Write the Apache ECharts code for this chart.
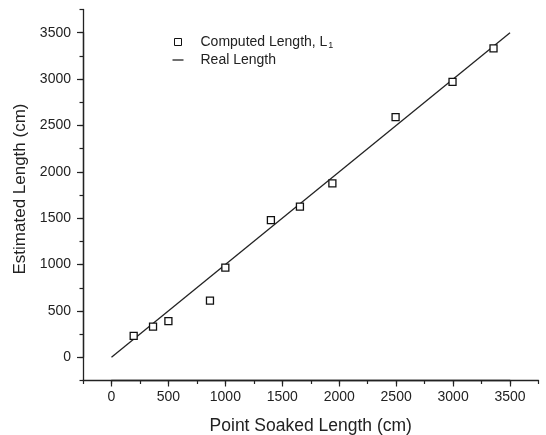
<!DOCTYPE html>
<html>
<head>
<meta charset="utf-8">
<script src="https://cdn.jsdelivr.net/npm/echarts@6/dist/echarts.min.js"></script>
<style>
html,body{margin:0;padding:0;background:#fff;}
#chart{width:546px;height:435px;}
</style>
</head>
<body>
<div id="chart"></div>
<script>
// Data
const soakedLength = [195, 365, 500, 865, 1000, 1400, 1655, 1940, 2495, 2995, 3355];
const computedLength = [232, 330, 390, 612, 966, 1480, 1625, 1875, 2590, 2970, 3330];
const realLineX = [0, 3500];
const realLineY = [0, 3500];
const tickValues = [0, 500, 1000, 1500, 2000, 2500, 3000, 3500];
const seriesNames = ['Computed Length, L1', 'Real Length'];
const xTitle = 'Point Soaked Length (cm)';
const yTitle = 'Estimated Length (cm)';

const FONT = "'Liberation Sans', Arial, sans-serif";
const INK = '#222';

const scatterData = soakedLength.map((x, i) => [x, computedLength[i]]);
const lineData = realLineX.map((x, i) => [x, realLineY[i]]);

// main plot frame: axis range -250..3750 on both axes
const G = {left: 83, right: 7.5, top: 9.5, bottom: 54.5};
const W = 546 - G.left - G.right;
const H = 435 - G.top - G.bottom;
const padX = W * 250 / 4000;
const padY = H * 250 / 4000;

function mainAxis(name, isX) {
  return {
    type: 'value',
    gridIndex: 0,
    position: isX ? 'bottom' : 'left',
    min: -250, max: 3750, interval: 250,
    name: name,
    nameLocation: 'middle',
    nameGap: isX ? 37 : 54,
    nameTextStyle: isX
      ? {fontFamily: FONT, fontSize: 17.5, color: INK}
      : {fontFamily: FONT, fontSize: 17, color: INK, padding: [0, 0, 0, 12]},
    axisLine: {show: true, onZero: false, lineStyle: {color: INK, width: 1.3}},
    axisTick: {show: true, length: 3.5, lineStyle: {color: INK, width: 1.2}},
    axisLabel: {show: false},
    splitLine: {show: false}
  };
}
// labelled major-tick axis spanning tickValues, aligned onto the main frame
function labelAxis(isX) {
  return {
    type: 'value',
    gridIndex: 1,
    position: isX ? 'bottom' : 'left',
    offset: isX ? padY : padX,
    min: tickValues[0], max: tickValues[tickValues.length - 1],
    interval: tickValues[1] - tickValues[0],
    axisLine: {show: true, onZero: false, lineStyle: {color: INK, width: 1.3}},
    axisTick: {show: true, length: 6, lineStyle: {color: INK, width: 1.2}},
    axisLabel: {fontFamily: FONT, fontSize: 14, color: INK, margin: isX ? 10 : 12,
      formatter: v => String(v)},
    splitLine: {show: false}
  };
}

const chart = echarts.init(document.getElementById('chart'), null, {renderer: 'canvas'});
chart.setOption({
  backgroundColor: '#fff',
  animation: false,
  grid: [
    {left: G.left, right: G.right, top: G.top, bottom: G.bottom, containLabel: false, outerBoundsMode: 'none'},
    {left: G.left + padX, right: G.right + padX, top: G.top + padY, bottom: G.bottom + padY, containLabel: false, outerBoundsMode: 'none'}
  ],
  xAxis: [mainAxis(xTitle, true), labelAxis(true)],
  yAxis: [mainAxis(yTitle, false), labelAxis(false)],
  legend: {
    orient: 'vertical',
    left: 172.5, top: 34,
    padding: 0,
    itemWidth: 11, itemHeight: 7, itemGap: 2,
    symbolKeepAspect: true,
    itemStyle: {borderWidth: 1},
    data: [
      {name: seriesNames[0], icon: 'path://M0,0L10,0L10,10L0,10Z'},
      {name: seriesNames[1], icon: 'path://M0,0L11,0L11,1.3L0,1.3Z'}
    ],
    formatter: n => n === seriesNames[0] ? '{g|}Computed Length, L{sub|1}' : '{g|}' + n,
    textStyle: {
      fontFamily: FONT, fontSize: 14, color: INK, lineHeight: 16,
      rich: {
        g: {width: 12},
        sub: {fontFamily: FONT, fontSize: 9, color: INK, verticalAlign: 'bottom', lineHeight: 10, padding: [0, 0, 0, 1]}
      }
    }
  },
  series: [
    {
      name: seriesNames[0],
      type: 'scatter',
      xAxisIndex: 0, yAxisIndex: 0,
      symbol: 'rect',
      symbolSize: 7,
      itemStyle: {color: '#fff', borderColor: '#111', borderWidth: 1.3, opacity: 1},
      data: scatterData,
      z: 3
    },
    {
      name: seriesNames[1],
      type: 'line',
      xAxisIndex: 0, yAxisIndex: 0,
      symbol: 'none',
      lineStyle: {color: INK, width: 1.3},
      itemStyle: {color: INK},
      data: lineData,
      z: 2
    }
  ]
});
</script>
</body>
</html>
